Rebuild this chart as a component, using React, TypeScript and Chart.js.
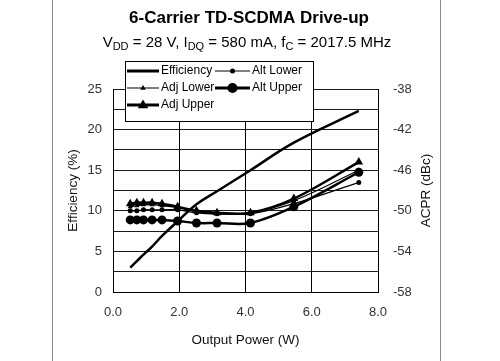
import React, { useEffect, useRef } from "react";
import { Chart, registerables } from "chart.js";

Chart.register(...registerables);

const titleText = "6-Carrier TD-SCDMA Drive-up";
const xTitle = "Output Power (W)";
const yLeftTitle = "Efficiency (%)";
const yRightTitle = "ACPR (dBc)";

const powerW = [0.52, 0.72, 0.92, 1.18, 1.48, 1.95, 2.52, 3.14, 4.15, 5.46, 7.42];
const efficiency = [3.0, 3.8, 4.6, 5.6, 6.9, 8.7, 10.8, 12.4, 15.0, 18.4, 22.3];
const adjUpper = [-49.3, -49.2, -49.2, -49.2, -49.3, -49.6, -50.0, -50.2, -50.2, -48.8, -45.2];
const adjLower = [-49.6, -49.5, -49.4, -49.4, -49.5, -49.7, -50.1, -50.3, -50.2, -49.0, -46.0];
const altLower = [-50.0, -50.0, -49.9, -49.9, -49.9, -49.9, -50.2, -50.3, -50.3, -49.3, -47.2];
const altUpper = [-50.9, -50.9, -50.9, -50.9, -50.9, -51.0, -51.2, -51.2, -51.2, -49.6, -46.2];

const xTicks = [0, 2, 4, 6, 8];
const leftTicks = [0, 5, 10, 15, 20, 25];
const rightTicks = [-58, -54, -50, -46, -42, -38];

const FONT = '"Liberation Sans", Arial, sans-serif';

const legendItems = [
  { label: "Efficiency", lw: 3, marker: "none", r: 0, col: 0, row: 0 },
  { label: "Alt Lower", lw: 1, marker: "circle", r: 2.5, col: 1, row: 0 },
  { label: "Adj Lower", lw: 1, marker: "triangle", r: 3, col: 0, row: 1 },
  { label: "Alt Upper", lw: 3, marker: "circle", r: 5, col: 1, row: 1 },
  { label: "Adj Upper", lw: 3, marker: "triangle", r: 5.5, col: 0, row: 2 },
];

function drawMarker(ctx: CanvasRenderingContext2D, kind: string, x: number, y: number, r: number) {
  if (kind === "none") return;
  ctx.beginPath();
  if (kind === "circle") {
    ctx.arc(x, y, r, 0, Math.PI * 2);
  } else {
    ctx.moveTo(x, y - r);
    ctx.lineTo(x + r * 0.95, y + r * 0.6);
    ctx.lineTo(x - r * 0.95, y + r * 0.6);
    ctx.closePath();
  }
  ctx.fillStyle = "#000";
  ctx.fill();
}

const decor = {
  id: "decor",
  beforeDraw(chart: any) {
    const ctx = chart.ctx as CanvasRenderingContext2D;
    ctx.save();
    ctx.fillStyle = "#fff";
    ctx.fillRect(0, 0, chart.width, chart.height);
    ctx.strokeStyle = "#8a8a8a";
    ctx.lineWidth = 1;
    ctx.beginPath();
    ctx.moveTo(52.5, 0);
    ctx.lineTo(52.5, chart.height);
    ctx.moveTo(440.5, 0);
    ctx.lineTo(440.5, chart.height);
    ctx.stroke();
    ctx.restore();
  },
  afterDraw(chart: any) {
    const ctx = chart.ctx as CanvasRenderingContext2D;
    const area = chart.chartArea;
    ctx.save();
    ctx.fillStyle = "#000";
    ctx.textBaseline = "alphabetic";
    // Title
    ctx.font = `bold 17px ${FONT}`;
    ctx.textAlign = "center";
    ctx.fillText(titleText, 249, 23);
    // Subtitle with subscripts
    const parts: [string, boolean][] = [
      ["V", false], ["DD", true], [" = 28 V, I", false], ["DQ", true],
      [" = 580 mA, f", false], ["C", true], [" = 2017.5 MHz", false],
    ];
    const mainF = `15px ${FONT}`;
    const subF = `11px ${FONT}`;
    let total = 0;
    for (const [t, s] of parts) {
      ctx.font = s ? subF : mainF;
      total += ctx.measureText(t).width;
    }
    let x = 247 - total / 2;
    ctx.textAlign = "left";
    for (const [t, s] of parts) {
      ctx.font = s ? subF : mainF;
      ctx.fillText(t, x, s ? 50 : 47);
      x += ctx.measureText(t).width;
    }
    // Axis titles
    ctx.font = `13.5px ${FONT}`;
    ctx.fillStyle = "#111";
    ctx.textAlign = "center";
    ctx.textBaseline = "middle";
    ctx.fillText(xTitle, (area.left + area.right) / 2, 340);
    ctx.save();
    ctx.translate(73, (area.top + area.bottom) / 2);
    ctx.rotate(-Math.PI / 2);
    ctx.fillText(yLeftTitle, 0, 0);
    ctx.restore();
    ctx.save();
    ctx.translate(426, (area.top + area.bottom) / 2);
    ctx.rotate(-Math.PI / 2);
    ctx.fillText(yRightTitle, 0, 0);
    ctx.restore();
    // Legend
    const bx = 125, by = 61, bw = 188, bh = 60;
    ctx.fillStyle = "#fff";
    ctx.fillRect(bx, by, bw, bh);
    ctx.strokeStyle = "#000";
    ctx.lineWidth = 1;
    ctx.strokeRect(bx + 0.5, by + 0.5, bw, bh);
    ctx.font = `12px ${FONT}`;
    ctx.textAlign = "left";
    ctx.textBaseline = "middle";
    const colX = [127, 215];
    const rowY = [71, 88, 105];
    for (const it of legendItems) {
      const lx = colX[it.col];
      const ly = rowY[it.row];
      const len = it.col === 0 ? 32 : 35;
      ctx.strokeStyle = "#000";
      ctx.lineWidth = it.lw;
      ctx.beginPath();
      ctx.moveTo(lx, ly);
      ctx.lineTo(lx + len, ly);
      ctx.stroke();
      drawMarker(ctx, it.marker, lx + len / 2, ly, it.r);
      ctx.fillStyle = "#000";
      ctx.fillText(it.label, lx + len + 2, ly);
    }
    ctx.restore();
  },
};

export default function App() {
  const ref = useRef<HTMLCanvasElement>(null);
  useEffect(() => {
    if (!ref.current) return;
    const pts = (ys: number[]) => powerW.map((x, i) => ({ x, y: ys[i] }));
    const chart = new Chart(ref.current, {
      type: "line",
      data: {
        datasets: [
          {
            label: "Adj Lower", data: pts(adjLower), yAxisID: "y2",
            borderColor: "#000", backgroundColor: "#000", borderWidth: 1.2,
            pointStyle: "triangle", pointRadius: 3, pointBorderWidth: 0, tension: 0.35,
          },
          {
            label: "Alt Lower", data: pts(altLower), yAxisID: "y2",
            borderColor: "#000", backgroundColor: "#000", borderWidth: 1.2,
            pointStyle: "circle", pointRadius: 2.5, pointBorderWidth: 0, tension: 0.35,
          },
          {
            label: "Adj Upper", data: pts(adjUpper), yAxisID: "y2",
            borderColor: "#000", backgroundColor: "#000", borderWidth: 2.5,
            pointStyle: "triangle", pointRadius: 5, pointBorderWidth: 0, tension: 0.35,
          },
          {
            label: "Alt Upper", data: pts(altUpper), yAxisID: "y2",
            borderColor: "#000", backgroundColor: "#000", borderWidth: 2.5,
            pointStyle: "circle", pointRadius: 4.5, pointBorderWidth: 0, tension: 0.35,
          },
          {
            label: "Efficiency", data: pts(efficiency), yAxisID: "y",
            borderColor: "#000", backgroundColor: "#000", borderWidth: 2.5,
            pointRadius: 0, tension: 0.4,
          },
        ],
      },
      options: {
        animation: false,
        responsive: false,
        maintainAspectRatio: false,
        layout: { padding: { top: 89, left: 0, right: 0, bottom: 0 } },
        plugins: { legend: { display: false }, tooltip: { enabled: false }, title: { display: false } },
        scales: {
          x: {
            type: "linear", min: 0, max: 8,
            afterBuildTicks: (s: any) => { s.ticks = xTicks.map((v) => ({ value: v })); },
            afterFit: (s: any) => { s.height = 69; },
            grid: { color: "#000", lineWidth: 1, drawTicks: false },
            border: { color: "#000", width: 1 },
            ticks: {
              padding: 13, color: "#333", font: { family: FONT, size: 13 },
              callback: (v: any) => Number(v).toFixed(1),
            },
          },
          y: {
            position: "left", min: 0, max: 25,
            afterBuildTicks: (s: any) => {
              const t = [];
              for (let v = 0; v <= 25; v += 2.5) t.push({ value: v });
              s.ticks = t;
            },
            afterFit: (s: any) => { s.width = 113; },
            grid: { color: "#1a1a1a", lineWidth: 1, drawTicks: false },
            border: { color: "#000", width: 1 },
            ticks: {
              padding: 11, color: "#333", font: { family: FONT, size: 13 },
              callback: (v: any) => (leftTicks.includes(Number(v)) ? String(v) : ""),
            },
          },
          y2: {
            position: "right", min: -58, max: -38,
            afterBuildTicks: (s: any) => { s.ticks = rightTicks.map((v) => ({ value: v })); },
            afterFit: (s: any) => { s.width = 122; },
            grid: { display: false, drawTicks: false },
            border: { color: "#000", width: 1 },
            ticks: {
              padding: 15, color: "#333", font: { family: FONT, size: 13 },
            },
          },
        },
      },
      plugins: [decor],
    });
    return () => chart.destroy();
  }, []);
  return (
    <div style={{ position: "absolute", left: 0, top: 0, width: 500, height: 361 }}>
      <canvas ref={ref} width={500} height={361} style={{ width: 500, height: 361 }} />
    </div>
  );
}
